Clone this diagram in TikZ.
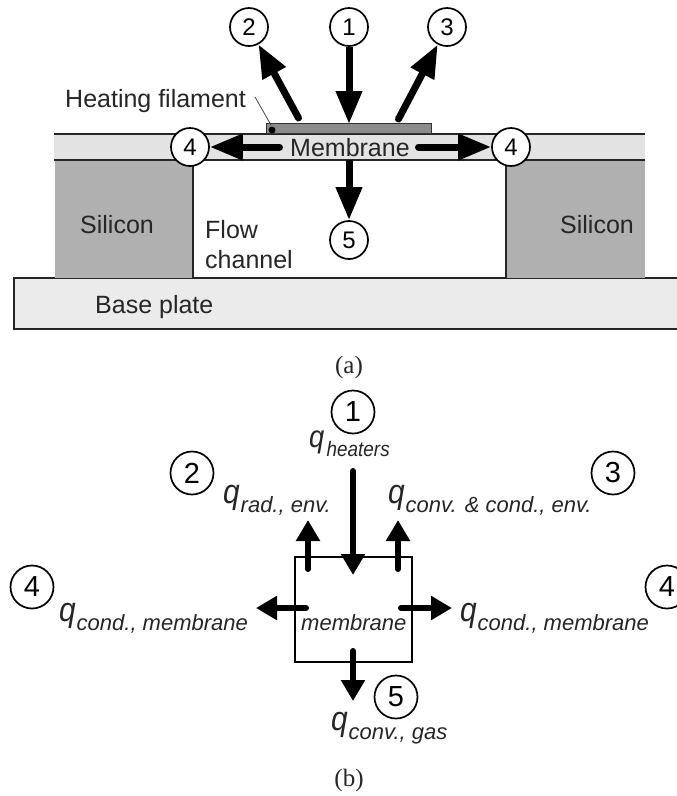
\documentclass[tikz,border=0pt]{standalone}
\usepackage{fontspec}
\setmainfont{Liberation Sans}
\newfontfamily\serifcap{Liberation Serif}
\usetikzlibrary{arrows.meta}
\newcommand{\qlab}[1]{\makebox[17.5pt][l]{\fontsize{34}{34}\selectfont\itshape\scalebox{.88}[1]{q}}\raisebox{-9pt}{\fontsize{22}{22}\selectfont\itshape #1}}
\newcommand{\qheat}[1]{\makebox[17.5pt][l]{\fontsize{31}{31}\selectfont\itshape\scalebox{.88}[1]{q}}\raisebox{-9pt}{\fontsize{21}{21}\selectfont\itshape\scalebox{.9}[1]{#1}}}
\tikzset{
  lbl/.style={anchor=base west,inner sep=0pt,font=\fontsize{25}{25}\selectfont,text=black!85},
  qtxt/.style={anchor=base west,inner sep=0pt,text=black!85},
  captxt/.style={inner sep=0pt,font=\serifcap\fontsize{25}{25}\selectfont,text=black!85},
  numa/.style={circle,draw=black,line width=1.7pt,fill=white,minimum size=38pt,inner sep=0pt,font=\fontsize{24}{24}\selectfont},
  numb/.style={circle,draw=black,line width=1.7pt,fill=white,minimum size=43pt,inner sep=0pt,font=\fontsize{29}{29}\selectfont},
  bigarrow/.style={line width=7pt,-{Triangle[length=33pt,width=25pt]}},
  smallarrow/.style={line width=6pt,line cap=round,-{Triangle[length=21pt,width=23pt]}},
}
\begin{document}
\begin{tikzpicture}[x=1pt,y=-1pt]
\useasboundingbox (0,0) rectangle (677,796);
\fill[white] (0,0) rectangle (677,796);
% layers
\fill[black!8] (14,278) rectangle (680,329);
\draw[line width=1.6pt,black!85] (680,278) -- (14,278) -- (14,329) -- (680,329);
\fill[black!31] (55,160) rectangle (193,278);
\fill[black!31] (506,160) rectangle (645,278);
\draw[line width=1.3pt,black!85] (193,160) -- (193,278);
\draw[line width=1.3pt,black!85] (506,160) -- (506,278);
\fill[black!11] (54,134) rectangle (645,160);
\draw[line width=1.8pt,black!85] (54,134) -- (645,134);
\draw[line width=1.8pt,black!85] (54,160) -- (645,160);
\node[draw=black!80,line width=1pt,fill=black!45,minimum width=165pt,minimum height=10pt,inner sep=0pt] (fil) at (349,128.5) {};
\fill[black] (272,130) circle (3.5);
% labels
\node[lbl] (hf) at (65,107) {Heating filament};
\node[lbl] (mem) at (290,156) {Membrane};
\node[lbl] (si1) at (80,233) {Silicon};
\node[lbl] (si2) at (560,233) {Silicon};
\node[lbl] (fl) at (205,238) {Flow};
\node[lbl] (ch) at (205,268) {channel};
\node[lbl] (bp) at (95,313) {Base plate};
\node[captxt] (capa) at (349,367) {(a)};
\node[captxt] (capb) at (349,780) {(b)};
% circles a
\node[numa] (a1) at (349,27) {1};
\node[numa] (a2) at (249,27) {2};
\node[numa] (a3) at (447,27) {3};
\node[numa] (a4l) at (190,147) {4};
\node[numa] (a4r) at (511,147) {4};
\node[numa] (a5) at (349,240) {5};
% anchors a
\coordinate (hfa) at (255,97);
\coordinate (hfb) at (271,125);
\coordinate (t1) at (349,124);
\coordinate (t2) at (298.5,118);
\coordinate (t3) at (398.5,119);
\coordinate (t4l) at (279.5,147);
\coordinate (t4r) at (418.5,147);
\coordinate (t5) at (349,160);
\draw[black!75,line width=.8pt] (hfa) -- (hfb);
\draw[bigarrow] (a1) -- (t1);
\draw[bigarrow,line cap=round] (t2) -- (a2);
\draw[bigarrow,line cap=round] (t3) -- (a3);
\draw[bigarrow,line cap=round] (t4l) -- (a4l);
\draw[bigarrow,line cap=round] (t4r) -- (a4r);
\draw[bigarrow] (t5) -- (a5);
% part b
\node[draw=black,line width=1.8pt,minimum width=117pt,minimum height=105pt,inner sep=0pt] (box) at (353.5,609.5) {};
\node[qtxt,font=\fontsize{22}{22}\selectfont\itshape] (boxl) at (301,630) {membrane};
\node[numb] (b1) at (353,412) {1};
\node[numb] (b2) at (192,473) {2};
\node[numb] (b3) at (613,473) {3};
\node[numb] (b4l) at (32,587) {4};
\node[numb] (b4r) at (667,587) {4};
\node[numb] (b5) at (396,697) {5};
\node[qtxt] (q1) at (309,447) {\qheat{heaters}};
\node[qtxt] (q2) at (223,503) {\qlab{rad., env.}};
\node[qtxt] (q3) at (388,503) {\qlab{conv. \& cond., env.}};
\node[qtxt] (q4l) at (59,621) {\qlab{cond., membrane}};
\node[qtxt] (q4r) at (460,621) {\qlab{cond., membrane}};
\node[qtxt] (q5) at (331,730) {\qlab{conv., gas}};
\coordinate (h0) at (353,471);
\coordinate (h1) at (353,575);
\coordinate (l0) at (308,569);
\coordinate (l1) at (308,520);
\coordinate (r0) at (398,569);
\coordinate (r1) at (398,520);
\coordinate (w0) at (306,608);
\coordinate (w1) at (256,608);
\coordinate (e0) at (401,608);
\coordinate (e1) at (452,608);
\coordinate (s0) at (353,651);
\coordinate (s1) at (353,701);
\draw[smallarrow] (h0) -- (h1);
\draw[smallarrow] (l0) -- (l1);
\draw[smallarrow] (r0) -- (r1);
\draw[smallarrow] (w0) -- (w1);
\draw[smallarrow] (e0) -- (e1);
\draw[smallarrow] (s0) -- (s1);
\end{tikzpicture}
\end{document}
